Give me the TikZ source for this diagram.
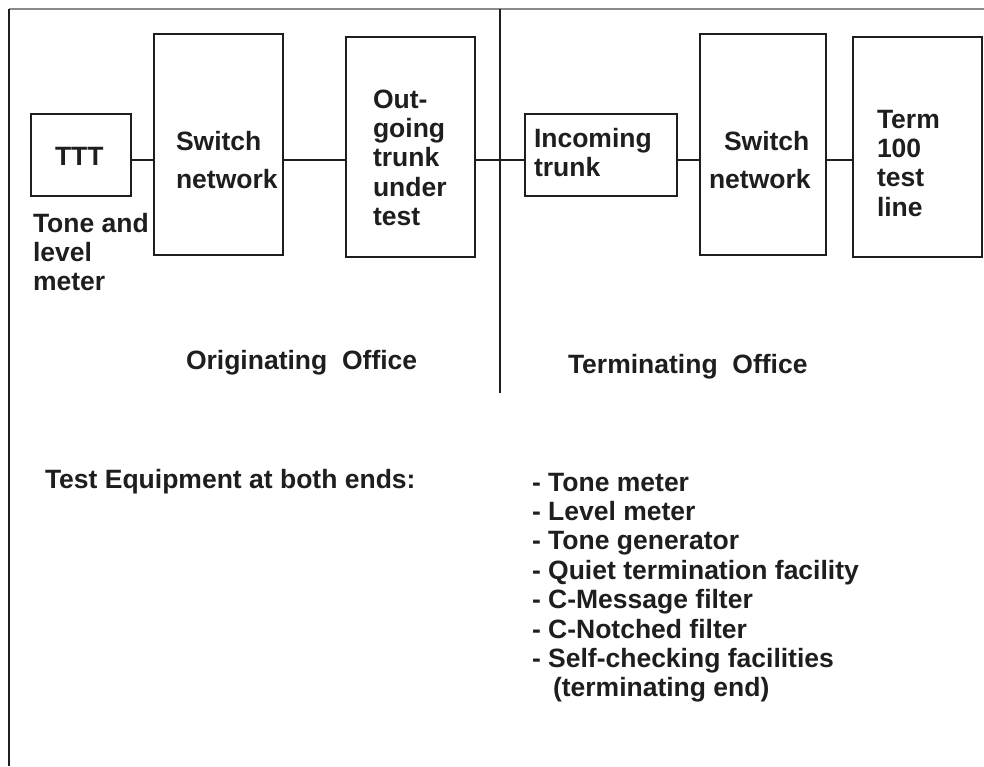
\documentclass[tikz,border=0pt]{standalone}
\usepackage{fontspec}
\setmainfont{Liberation Sans}
\definecolor{ink}{HTML}{1E1E1E}
\definecolor{rule}{HTML}{8A8A8A}
% stacked lines whose baseline is the first line's baseline
\newcommand{\stackl}[1]{\begin{tabular}[t]{@{}l@{}}#1\end{tabular}}
\begin{document}
\begin{tikzpicture}[x=1pt,y=-1pt,
  every node/.style={inner sep=0pt, outer sep=0pt, text=ink,
    font=\fontsize{26.5}{29.4}\selectfont\bfseries},
  blk/.style={draw=ink, line width=1.3pt, rectangle},
  heavyblk/.style={blk, line width=2.4pt},
  lbl/.style={anchor=base west},
  wire/.style={draw=ink, line width=1.3pt}]
\useasboundingbox (0,0) rectangle (984,766);

% frame lines
\draw[rule, line width=1.3pt] (9,9) -- (984,9);
\draw[ink, line width=1.5pt] (9,9) -- (9,766);

% office divider
\coordinate (divtop) at (500,9);
\coordinate (divbot) at (500,393);
\draw[ink, line width=1.5pt] (divtop) -- (divbot);

% blocks
\node[blk, minimum width=100pt, minimum height=82pt] (ttt) at (81,155) {};
\node[blk, minimum width=129pt, minimum height=221pt] (swa) at (218.5,144.5) {};
\node[blk, minimum width=129pt, minimum height=220pt] (og) at (410.5,147) {};
\node[blk, minimum width=152pt, minimum height=82pt] (inc) at (601,155) {};
\node[blk, minimum width=126pt, minimum height=221pt] (swb) at (763,144.5) {};
\node[heavyblk, minimum width=129pt, minimum height=220pt] (term) at (917.5,147) {};

% block texts
\node[lbl] (tttlbl) at (55,165) {TTT};
\node[lbl] (swalbl) at (176,150) {\renewcommand{\arraystretch}{1.3}\stackl{Switch\\network}};
\node[lbl] (oglbl) at (373,108) {\stackl{Out-\\going\\trunk\\under\\test}};
\node[lbl] (inclbl) at (534,147) {\stackl{Incoming\\trunk}};
\node[lbl] (swblbl) at (709,150) {\renewcommand{\arraystretch}{1.3}\stackl{\hspace{15pt}Switch\\network}};
\node[lbl] (termlbl) at (877,128) {\stackl{Term\\100\\test\\line}};

% meter caption
\node[lbl] (meter) at (33,232) {\stackl{Tone and\\level\\meter}};

% trunk connections
\coordinate (bus) at (0,160);
\draw[wire] (ttt.east |- bus) -- (swa.west |- bus);
\draw[wire] (swa.east |- bus) -- (og.west |- bus);
\draw[wire] (og.east |- bus) -- (inc.west |- bus);
\draw[wire] (inc.east |- bus) -- (swb.west |- bus);
\draw[wire] (swb.east |- bus) -- (term.west |- bus);

% office captions
\node[lbl] (orig) at (186,369) {Originating\ \ Office};
\node[lbl] (termo) at (568,373) {Terminating\ \ Office};

% test equipment list
\node[lbl] (equip) at (45,488) {Test Equipment at both ends:};
\node[lbl] (items) at (532,491) {\stackl{- Tone meter\\- Level meter\\- Tone generator\\- Quiet termination facility\\- C-Message filter\\- C-Notched filter\\- Self-checking facilities\\\hspace{21pt}(terminating end)}};
\end{tikzpicture}
\end{document}
